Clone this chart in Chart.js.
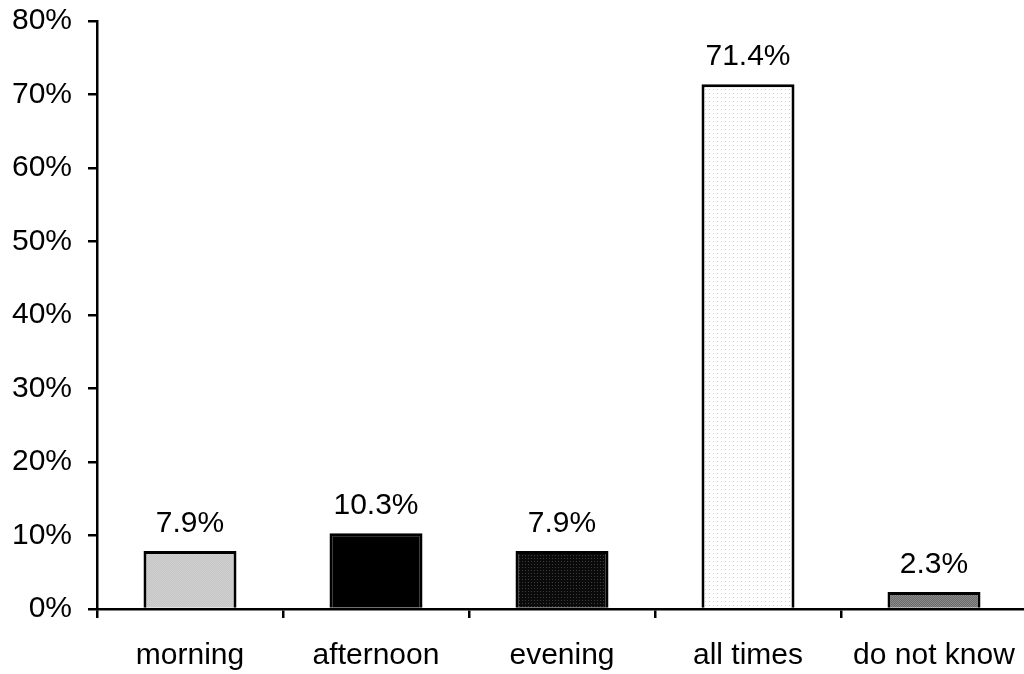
<!DOCTYPE html>
<html>
<head>
<meta charset="utf-8">
<script src="https://cdn.jsdelivr.net/npm/chart.js@4/dist/chart.umd.min.js"></script>
<style>
  html, body { margin: 0; padding: 0; background: #fff; overflow: hidden; }
  #wrap { position: absolute; left: 0; top: 0; width: 1027px; height: 674px; }
</style>
</head>
<body>
<div id="wrap"><canvas id="c" width="1027" height="674"></canvas></div>
<script>
// Share of respondents by time of day
const categories = ['morning', 'afternoon', 'evening', 'all times', 'do not know'];
const shares = [7.9, 10.3, 7.9, 71.4, 2.3];
const yTicks = [0, 10, 20, 30, 40, 50, 60, 70, 80];

// Small dotted fills for the bars
function pattern(size, bg, dot, cells) {
  const c = document.createElement('canvas');
  c.width = size; c.height = size;
  const g = c.getContext('2d');
  g.fillStyle = bg; g.fillRect(0, 0, size, size);
  g.fillStyle = dot;
  cells.forEach(([x, y]) => g.fillRect(x, y, 1, 1));
  return g.createPattern(c, 'repeat');
}
const ctx0 = document.getElementById('c').getContext('2d');
const fills = [
  pattern(2, '#c4c4c4', '#d2d2d2', [[0, 0], [1, 1]]),
  '#000000',
  pattern(3, '#0a0a0a', '#3c3c3c', [[0, 0]]),
  pattern(4, '#ffffff', '#d4d4d4', [[1, 1]]),
  pattern(2, '#6a6a6a', '#8a8a8a', [[0, 0], [1, 1]])
];

const FONT = '"Liberation Sans", Arial, sans-serif';
const FS = 30;

const valueLabels = {
  id: 'valueLabels',
  afterDatasetsDraw(chart) {
    const ctx = chart.ctx;
    const meta = chart.getDatasetMeta(0);
    ctx.save();
    ctx.font = FS + 'px ' + FONT;
    ctx.fillStyle = '#000';
    ctx.textAlign = 'center';
    ctx.textBaseline = 'alphabetic';
    meta.data.forEach((bar, i) => {
      ctx.fillText(shares[i].toFixed(1) + '%', bar.x, bar.y - 19);
    });
    ctx.restore();
  }
};

new Chart(ctx0, {
  type: 'bar',
  data: {
    labels: categories,
    datasets: [{
      data: shares,
      backgroundColor: fills,
      borderColor: '#000',
      borderWidth: 3,
      borderSkipped: 'bottom',
      barPercentage: 0.5,
      categoryPercentage: 1.0
    }]
  },
  options: {
    responsive: false,
    animation: false,
    layout: { padding: { top: 21, right: 0, left: 0, bottom: 0 } },
    plugins: { legend: { display: false }, tooltip: { enabled: false } },
    scales: {
      x: {
        grid: { drawOnChartArea: false, offset: true, color: '#000', lineWidth: 2.5, tickLength: 9 },
        border: { color: '#000', width: 2.5 },
        ticks: { color: '#000', font: { family: FONT, size: FS }, padding: 20, maxRotation: 0 },
        afterFit(s) { s.height = 65; s.paddingLeft = 0; s.paddingRight = 0; }
      },
      y: {
        min: 0, max: 80,
        afterBuildTicks(s) { s.ticks = yTicks.map(v => ({ value: v })); },
        grid: { drawOnChartArea: false, color: '#000', lineWidth: 2.5, tickLength: 9 },
        border: { color: '#000', width: 2.5 },
        ticks: { color: '#000', font: { family: FONT, size: FS }, padding: 16, callback: v => v + '%' },
        afterFit(s) { s.width = 97; s.paddingTop = 0; s.paddingBottom = 0; }
      }
    }
  },
  plugins: [valueLabels]
});
</script>
</body>
</html>
